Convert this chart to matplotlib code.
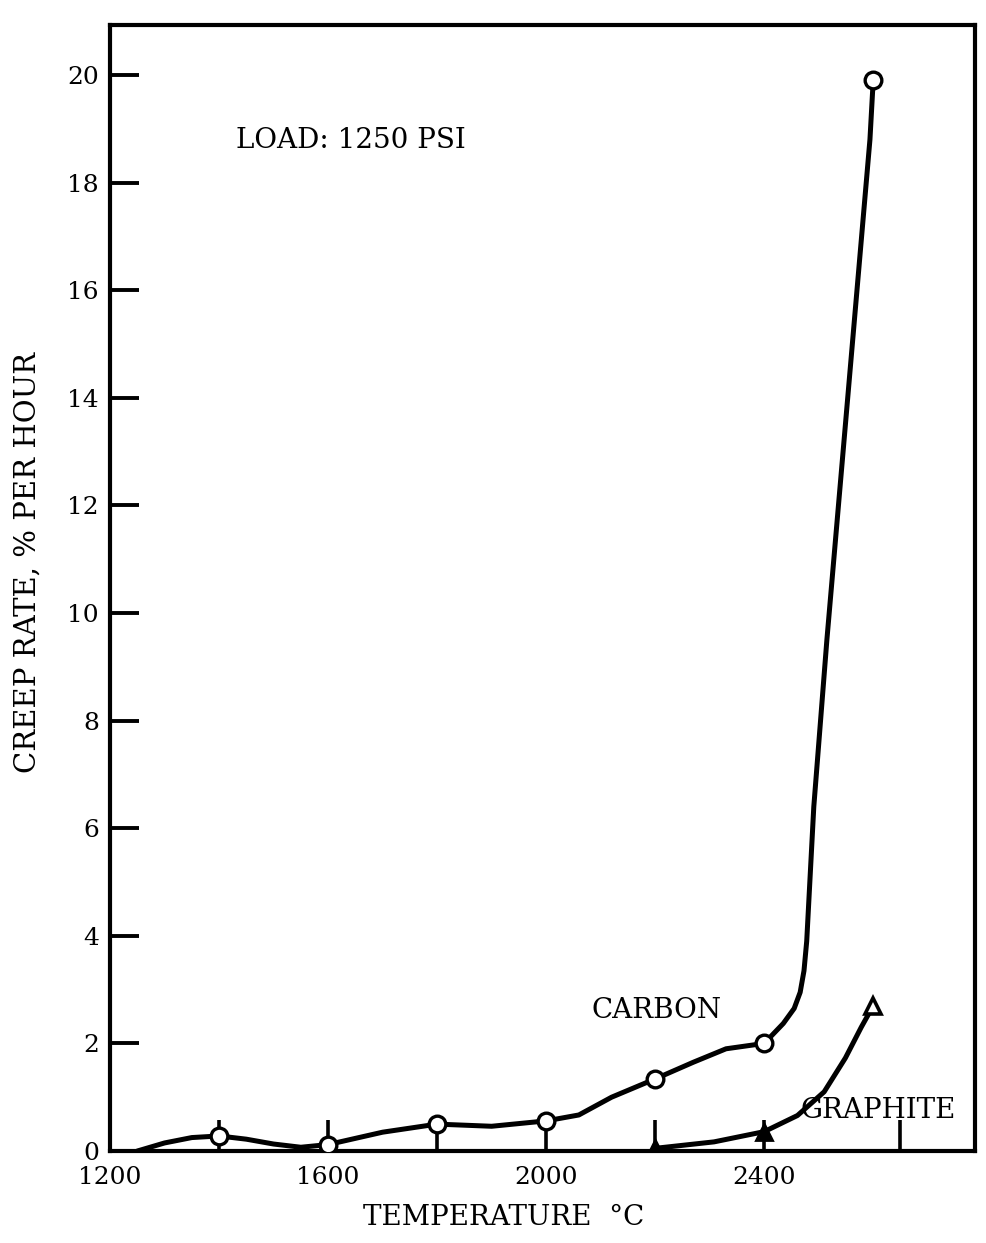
import matplotlib
matplotlib.use("Agg")
import matplotlib.pyplot as plt

# measured creep rates (% per hour) at 1250 psi
carbon_temp = [1400, 1600, 1800, 2000, 2200, 2400, 2600]
carbon_rate = [0.28, 0.12, 0.50, 0.56, 1.34, 2.00, 19.9]

graphite_temp = [2200, 2400, 2600]
graphite_rate = [0.05, 0.36, 2.70]

# hand-faired curves through the measurements
carbon_curve_temp = [1250, 1300, 1350, 1400, 1450, 1500, 1550, 1600, 1700, 1800,
                     1900, 2000, 2060, 2120, 2200, 2270, 2330, 2400, 2435, 2455,
                     2466, 2473, 2478, 2491, 2515, 2594, 2600]
carbon_curve_rate = [0.0, 0.15, 0.25, 0.28, 0.22, 0.13, 0.07, 0.12, 0.35, 0.50,
                     0.46, 0.56, 0.67, 1.00, 1.34, 1.65, 1.90, 2.00, 2.37, 2.65,
                     2.95, 3.35, 3.90, 6.40, 9.50, 18.8, 19.9]

graphite_curve_temp = [2200, 2308, 2400, 2461, 2510, 2549, 2578, 2600]
graphite_curve_rate = [0.05, 0.17, 0.36, 0.66, 1.10, 1.73, 2.30, 2.70]

labeled_ticks = [1200, 1600, 2000, 2400]
unlabeled_ticks = [1400, 1800, 2200, 2650]
y_ticks = [0, 2, 4, 6, 8, 10, 12, 14, 16, 18, 20]

plt.rcParams['font.family'] = ['DejaVu Serif']

fig = plt.figure(figsize=(9.87, 12.43), dpi=100)
ax = fig.add_axes([0.1115, 0.074, 0.8765, 0.906])

ax.plot(carbon_curve_temp, carbon_curve_rate, color='black', lw=3.6,
        solid_capstyle='round', solid_joinstyle='round', zorder=3)
ax.plot(graphite_curve_temp, graphite_curve_rate, color='black', lw=3.6,
        solid_capstyle='round', solid_joinstyle='round', zorder=3)

ax.plot(carbon_temp, carbon_rate, ls='none', marker='o', ms=12,
        mfc='white', mec='black', mew=2.4, zorder=4)
ax.plot(graphite_temp[:2], graphite_rate[:2], ls='none', marker='^', ms=11,
        mfc='black', mec='black', mew=2.0, zorder=4)
ax.plot(graphite_temp[2:], graphite_rate[2:], ls='none', marker='^', ms=12,
        mfc='white', mec='black', mew=2.6, zorder=4)

ax.set_xlim(1200, 2787)
ax.set_ylim(0, 20.93)

ax.set_xticks(labeled_ticks)
ax.set_xticks(unlabeled_ticks, minor=True)
ax.set_yticks(y_ticks)
ax.set_axisbelow(False)

ax.tick_params(axis='x', which='both', direction='in', length=22, width=2.6,
               pad=11, labelsize=18, top=False)
ax.tick_params(axis='y', direction='in', length=21, width=2.8, pad=8,
               labelsize=18, right=False)

for side in ['left', 'right', 'top', 'bottom']:
    ax.spines[side].set_linewidth(3.0)

ax.text(-0.095, 0.523, 'CREEP RATE, % PER HOUR', transform=ax.transAxes,
        rotation=90, ha='center', va='center', fontsize=21)
ax.text(0.455, -0.059, 'TEMPERATURE  °C', transform=ax.transAxes,
        ha='center', va='center', fontsize=20)

ax.text(1431, 18.79, 'LOAD: 1250 PSI', ha='left', va='center', fontsize=20)
ax.text(2084, 2.62, 'CARBON', ha='left', va='center', fontsize=20)
ax.text(2466, 0.76, 'GRAPHITE', ha='left', va='center', fontsize=20)

fig.savefig('out.png', dpi=100)
